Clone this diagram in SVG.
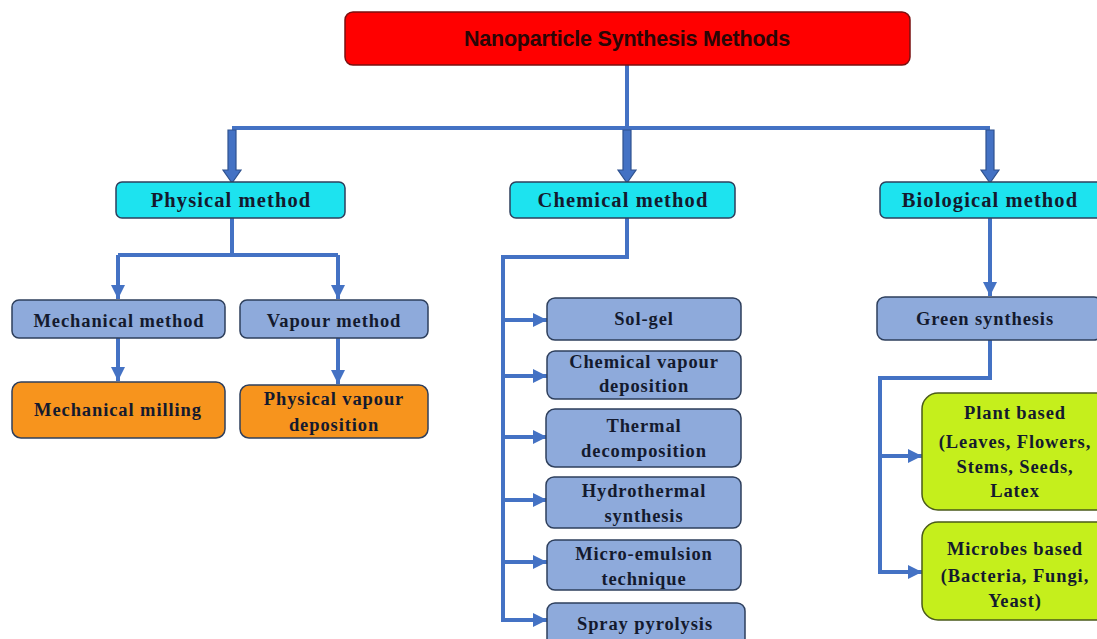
<svg xmlns="http://www.w3.org/2000/svg" width="1097" height="639" viewBox="0 0 1097 639">
<style>
.box{stroke:#2e3f5c;stroke-width:1.5}
.title{fill:#ff0000;stroke:#7a1010;stroke-width:1.5}
.cyan{fill:#1de3ef}
.blue{fill:#8eaadb}
.orange{fill:#f7941d}
.green{fill:#c5ef1c;stroke:#4a5a1a}
.t{font-family:"Liberation Serif","Times New Roman",serif;font-weight:bold;font-size:18.5px;fill:#141a2e;text-anchor:middle;letter-spacing:0.9px}
.tl{font-size:20.5px;letter-spacing:1.1px}
.tt{font-family:"Liberation Sans",Arial,sans-serif;font-weight:bold;font-size:21.5px;fill:#2a0606;text-anchor:middle;letter-spacing:-0.2px}
.c{fill:none;stroke:#4472c4;stroke-width:4}
.ba{fill:#4472c4;stroke:#2f528f;stroke-width:1.2}
</style>
<defs>
<marker id="ah" markerUnits="userSpaceOnUse" markerWidth="16" markerHeight="16" viewBox="0 0 16 16" refX="14" refY="8" orient="auto">
<path d="M0,1 L14,8 L0,15 Z" fill="#4472c4"/>
</marker>
</defs>
<g id="connectors">
<path class="c" d="M627,65 V128 M232,128 H990"/>
<polygon class="ba" points="228,130 236,130 236,170 241,170 232,183 223,170 228,170"/>
<polygon class="ba" points="623,130 631,130 631,170 636,170 627,183 618,170 623,170"/>
<polygon class="ba" points="986,130 994,130 994,170 999,170 990,183 981,170 986,170"/>
<path class="c" d="M232,218 V255 M118,255 H338"/>
<path class="c" d="M118,255 V299" marker-end="url(#ah)"/>
<path class="c" d="M338,255 V299" marker-end="url(#ah)"/>
<path class="c" d="M118,338 V381" marker-end="url(#ah)"/>
<path class="c" d="M338,338 V384" marker-end="url(#ah)"/>
<path class="c" d="M627,218 V257 H503 V621"/>
<path class="c" d="M503,320 H547" marker-end="url(#ah)"/>
<path class="c" d="M503,376 H547" marker-end="url(#ah)"/>
<path class="c" d="M503,437 H547" marker-end="url(#ah)"/>
<path class="c" d="M503,500 H547" marker-end="url(#ah)"/>
<path class="c" d="M503,562 H547" marker-end="url(#ah)"/>
<path class="c" d="M501,620 H547" marker-end="url(#ah)"/>
<path class="c" d="M990,218 V296" marker-end="url(#ah)"/>
<path class="c" d="M990,340 V378 H880 V574"/>
<path class="c" d="M880,456 H922" marker-end="url(#ah)"/>
<path class="c" d="M878,572 H922" marker-end="url(#ah)"/>
</g>
<g id="n-title"><rect class="title" x="345" y="12" width="565" height="53" rx="8"/><text class="tt" x="627" y="46">Nanoparticle Synthesis Methods</text></g>
<g id="n-physical"><rect class="box cyan" x="116" y="182" width="229" height="36" rx="6"/><text class="t tl" x="231" y="207">Physical method</text></g>
<g id="n-chemical"><rect class="box cyan" x="510" y="182" width="225" height="36" rx="6"/><text class="t tl" x="623" y="207">Chemical method</text></g>
<g id="n-biological"><rect class="box cyan" x="880" y="182" width="222" height="36" rx="6"/><text class="t tl" x="990" y="207">Biological method</text></g>
<g id="n-mechanical"><rect class="box blue" x="12" y="300" width="213" height="38" rx="7"/><text class="t" x="119" y="327">Mechanical method</text></g>
<g id="n-vapour"><rect class="box blue" x="240" y="300" width="188" height="38" rx="7"/><text class="t" x="334" y="327">Vapour method</text></g>
<g id="n-milling"><rect class="box orange" x="12" y="382" width="213" height="56" rx="9"/><text class="t" x="118" y="416">Mechanical milling</text></g>
<g id="n-pvd"><rect class="box orange" x="240" y="385" width="188" height="53" rx="9"/><text class="t" x="334" y="405">Physical vapour</text><text class="t" x="334" y="431">deposition</text></g>
<g id="n-solgel"><rect class="box blue" x="547" y="298" width="194" height="42" rx="8"/><text class="t" x="644" y="325">Sol-gel</text></g>
<g id="n-cvd"><rect class="box blue" x="547" y="351" width="194" height="48" rx="8"/><text class="t" x="644" y="368">Chemical vapour</text><text class="t" x="644" y="392">deposition</text></g>
<g id="n-thermal"><rect class="box blue" x="546" y="409" width="195" height="58" rx="9"/><text class="t" x="644" y="432">Thermal</text><text class="t" x="644" y="457">decomposition</text></g>
<g id="n-hydro"><rect class="box blue" x="546" y="477" width="195" height="51" rx="8"/><text class="t" x="644" y="497">Hydrothermal</text><text class="t" x="644" y="522">synthesis</text></g>
<g id="n-micro"><rect class="box blue" x="547" y="540" width="194" height="50" rx="8"/><text class="t" x="644" y="560">Micro-emulsion</text><text class="t" x="644" y="585">technique</text></g>
<g id="n-spray"><rect class="box blue" x="547" y="603" width="198" height="44" rx="8"/><text class="t" x="645" y="630">Spray pyrolysis</text></g>
<g id="n-green"><rect class="box blue" x="877" y="297" width="225" height="43" rx="8"/><text class="t" x="985" y="325">Green synthesis</text></g>
<g id="n-plant"><rect class="box green" x="922" y="393" width="190" height="117" rx="16"/><text class="t" x="1015" y="419">Plant based</text><text class="t" x="1015" y="448">(Leaves, Flowers,</text><text class="t" x="1015" y="473">Stems, Seeds,</text><text class="t" x="1015" y="497">Latex</text></g>
<g id="n-microbes"><rect class="box green" x="922" y="522" width="190" height="98" rx="16"/><text class="t" x="1015" y="555">Microbes based</text><text class="t" x="1015" y="582">(Bacteria, Fungi,</text><text class="t" x="1015" y="607">Yeast)</text></g>
</svg>
